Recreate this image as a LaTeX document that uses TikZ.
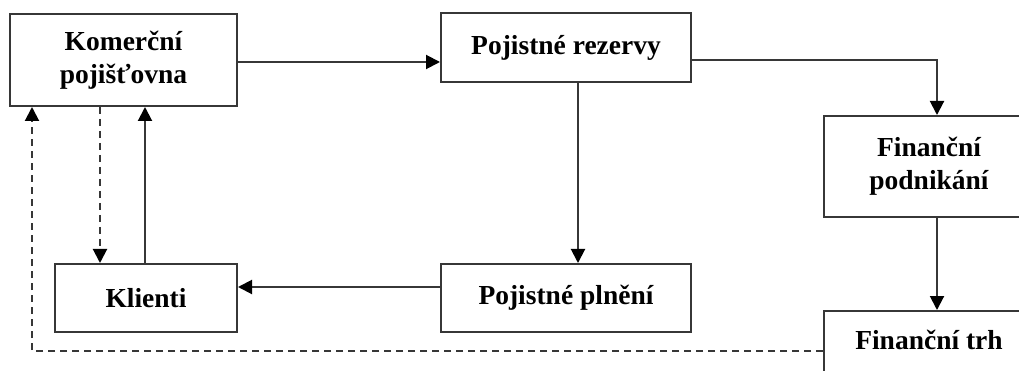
\documentclass[tikz,border=0pt]{standalone}
\usepackage{fontspec}
\setmainfont{Liberation Serif}
\usetikzlibrary{arrows.meta,positioning}
\definecolor{LineGray}{RGB}{55,55,55}

\begin{document}
\begin{tikzpicture}[x=1pt,y=-1pt,
        box/.style={draw=LineGray,line width=2pt,inner sep=0pt,align=center,
                    font=\fontsize{27.5}{33}\selectfont\bfseries},
        arr/.style={-{Triangle[length=14pt,width=14pt,color=black]},LineGray,line width=2pt},
        dashline/.style={dash pattern=on 7pt off 5pt}
      ]
        \useasboundingbox (0,0) rectangle (1019,371);
        \clip (0,0) rectangle (1019,371);
        \node[box,minimum width=227pt,minimum height=92pt] (K) at (123.5,60) {Komerční\\pojišťovna};
        \node[box,minimum width=182pt,minimum height=68pt] (Kl) at (146,298) {Klienti};
        \node[box,minimum width=250pt,minimum height=68pt,right=202pt of Kl] (P) {Pojistné plnění};
        \node[box,minimum width=250pt,minimum height=69pt,above=180pt of P] (R) {Pojistné rezervy};
        \node[box,minimum width=210pt,minimum height=101pt] (FP) at (929,166.5) {Finanční\\podnikání};
        \node[box,minimum width=210pt,minimum height=80pt,text depth=22pt,below=92pt of FP] (FT) {Finanční trh};
        \draw[arr] ([yshift=-2pt]K.east) -- ([yshift=-2pt]K.east -| R.west);
        \draw[arr] ([yshift=-12.5pt]R.east) -| ([xshift=8pt]FP.north);
        \draw[arr] ([xshift=12pt]R.south) -- ([xshift=12pt]P.north);
        \draw[arr] ([yshift=11pt]P.west) -- ([yshift=11pt]P.west -| Kl.east);
        \draw[arr] ([xshift=-1pt]Kl.north) -- ([xshift=-1pt]Kl.north |- K.south);
        \draw[arr,dashline] ([xshift=-46pt]Kl.north |- K.south) -- ([xshift=-46pt]Kl.north);
        \draw[arr] ([xshift=8pt]FP.south) -- ([xshift=8pt]FP.south |- FT.north);
        \draw[arr,dashline] (FT.west) -| ([xshift=-91.5pt]K.south);
\end{tikzpicture}
\end{document}
